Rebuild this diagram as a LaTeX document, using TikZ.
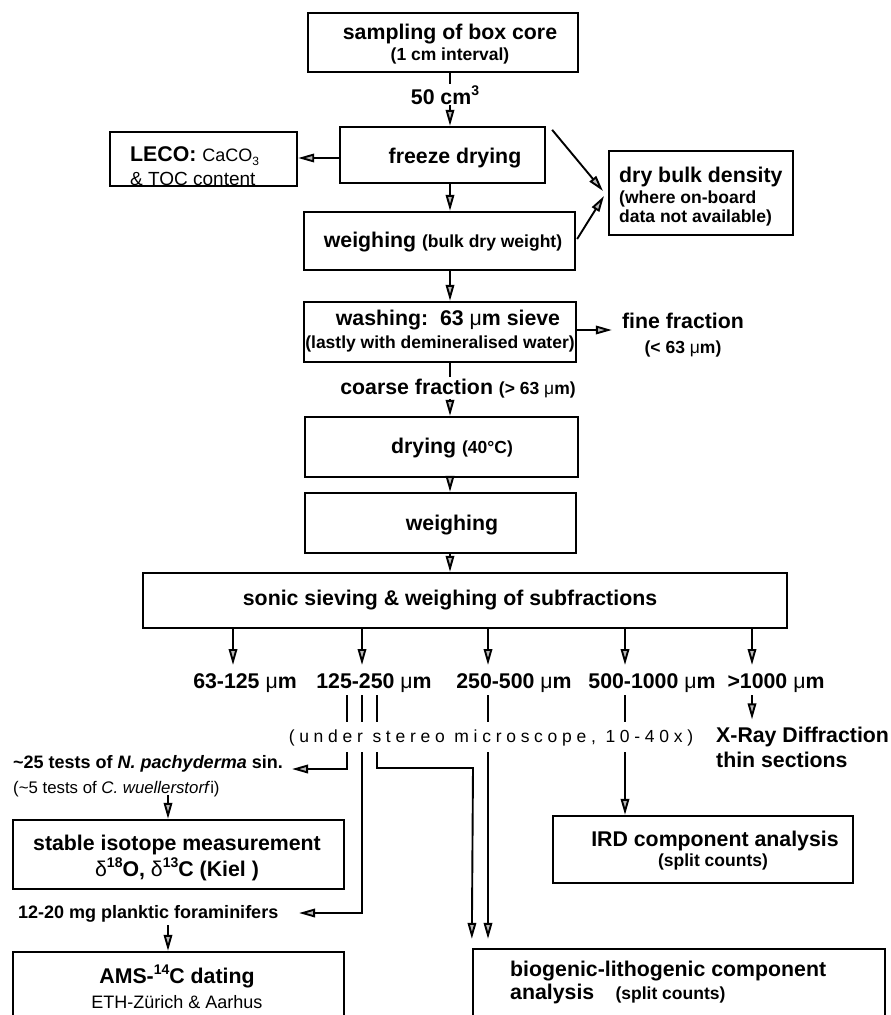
\documentclass[tikz,border=0pt]{standalone}
\usepackage{fontspec}
\setmainfont{Liberation Sans}
\newfontfamily\spacedfont[LetterSpace=27]{Liberation Sans}
\usetikzlibrary{arrows.meta}
\newcommand\fmain{\fontsize{21.3}{24}\selectfont\bfseries}
\newcommand\fsub{\fontsize{17.5}{20}\selectfont\bfseries}
\newcommand\freg{\fontsize{18}{21}\selectfont\mdseries}
\newcommand\hisup[1]{\raisebox{0.42em}{\fontsize{14}{14}\selectfont #1}}
\newcommand\losub[1]{\raisebox{-0.25em}{\fontsize{12}{12}\selectfont #1}}
\newcommand\mum{{\mdseries μ}m}
\begin{document}
\begin{tikzpicture}[x=1pt,y=-1pt,
  box/.style={draw, line width=2.3pt, inner sep=0pt},
  t/.style={inner sep=0pt, anchor=base},
  tw/.style={inner sep=0pt, anchor=base west},
  arr/.style={line width=1.9pt, -{Triangle[length=16pt,width=8.5pt,fill=gray!55]}},
  ln/.style={line width=1.9pt}]
\useasboundingbox (0,0) rectangle (891,1015);
\clip (0,0) rectangle (891,1015);
\fill[white] (0,0) rectangle (891,1015);

% column coordinates
\coordinate (col) at (450,0);
\coordinate (sx) at (168,0);
\coordinate (v1) at (347,0);
\coordinate (v2) at (362,0);
\coordinate (v3) at (377,0);
\coordinate (v4) at (488,0);
\coordinate (v5) at (625,0);
\coordinate (v6) at (752,0);

% top chain
\node[box, minimum width=270pt, minimum height=59pt] (sampling) at (443,42.5) {};
\node[t] (samp1) at (450,39) {\fmain sampling of box core};
\node[t] (samp2) at (450,60) {\fsub (1 cm interval)};

\node[box, minimum width=205pt, minimum height=56pt] (freeze) at (442.5,155) {};
\node[t] (freezet) at (455,163) {\fmain freeze drying};
\draw[arr] (sampling.south -| col) -- (freeze.north -| col);
\node[t, fill=white, inner sep=1pt] (cm) at (445,104) {\fmain 50 cm\hisup{3}};

\node[box, minimum width=187pt, minimum height=54pt] (leco) at (203.5,159) {};
\node[tw] (leco1) at (130,161) {\fmain LECO: {\freg CaCO\losub{3}}};
\node[tw] (leco2) at (130,185) {\fontsize{19}{21}\selectfont \& TOC content};
\coordinate (lecoy) at (0,158);
\draw[arr] (freeze.west |- lecoy) -- (leco.east |- lecoy);

\node[box, minimum width=184pt, minimum height=84pt] (drybulk) at (701,193) {};
\node[tw] (db1) at (619,182) {\fmain dry bulk density};
\node[tw] (db2) at (619,203) {\fsub (where on-board};
\node[tw] (db3) at (619,222) {\fsub data not available)};
\coordinate (dbtip1) at (603,191);
\coordinate (dbtip2) at (604,196);

\node[box, minimum width=271pt, minimum height=58pt] (weigh1) at (439.5,241) {};
\node[t] (w1t) at (443,247) {\fmain weighing {\fsub (bulk dry weight)}};
\draw[arr] (freeze.south -| col) -- (weigh1.north -| col);
\draw[arr] ([xshift=6pt,yshift=-4pt]freeze.north east) -- (dbtip1);
\draw[arr] ([xshift=1pt,yshift=2pt]weigh1.east) -- (dbtip2);

\node[box, minimum width=272pt, minimum height=60pt] (wash) at (440,332) {};
\node[t] (wa1) at (448,325) {\fmain washing:\ \ 63 \mum\ sieve};
\node[t] (wa2) at (440,348) {\fsub (lastly with demineralised water)};
\draw[arr] (weigh1.south -| col) -- (wash.north -| col);

\coordinate (finey) at (0,330);
\node[t] (fine1) at (683,328) {\fmain fine fraction};
\node[t] (fine2) at (683,353) {\fsub (< 63 \mum)};
\draw[arr] (wash.east |- finey) -- ([xshift=-10pt]fine1.west |- finey);

\node[box, minimum width=273pt, minimum height=60pt] (dry) at (441.5,447) {};
\node[t] (dryt) at (452,453) {\fmain drying {\fsub (40°C)}};
\draw[arr] (wash.south -| col) -- (dry.north -| col);
\node[t, fill=white, inner sep=1.5pt] (coarse) at (458,394) {\fmain coarse fraction {\fsub (> 63 \mum)}};

\node[box, minimum width=271pt, minimum height=60pt] (weigh2) at (440.5,523) {};
\node[t] (w2t) at (452,530) {\fmain weighing};
\draw[arr] (dry.south -| col) -- (weigh2.north -| col);

\node[box, minimum width=644pt, minimum height=55pt] (sonic) at (465,600.5) {};
\node[t] (sonict) at (450,605) {\fmain sonic sieving \& weighing of subfractions};
\draw[arr] (weigh2.south -| col) -- (sonic.north -| col);

% size ranges
\node[t] (r1) at (245,688) {\fmain 63-125 \mum};
\node[t] (r2) at (374,688) {\fmain 125-250 \mum};
\node[t] (r3) at (514,688) {\fmain 250-500 \mum};
\node[t] (r4) at (652,688) {\fmain 500-1000 \mum};
\node[t] (r5) at (776,688) {\fmain >1000 \mum};
\coordinate (a1) at (233,665);
\coordinate (a2) at (362,665);
\coordinate (a3) at (488,665);
\coordinate (a4) at (625,665);
\coordinate (a5) at (752,665);
\draw[arr] (sonic.south -| a1) -- (a1);
\draw[arr] (sonic.south -| a2) -- (a2);
\draw[arr] (sonic.south -| a3) -- (a3);
\draw[arr] (sonic.south -| a4) -- (a4);
\draw[arr] (sonic.south -| a5) -- (a5);

\node[t] (micro) at (491,742) {\spacedfont\fontsize{17.5}{20}\selectfont (under stereo microscope, 10-40x)};

\foreach \v/\r in {v1/r2, v2/r2, v3/r2, v4/r3, v5/r4}
  \draw[ln] ([yshift=-7pt]\r.base -| \v) -- ([yshift=20pt]micro.base -| \v);

\node[tw] (xray1) at (716,742) {\fmain X-Ray Diffraction};
\node[tw] (xray2) at (716,767) {\fmain thin sections};
\draw[arr] ([yshift=-7pt]r5.base -| v6) -- ([yshift=7pt]xray1.north -| v6);

% left branch
\node[tw] (tests1) at (13,768) {\fontsize{18}{21}\selectfont\bfseries \textasciitilde 25 tests of \textit{N. pachyderma} sin.};
\node[tw] (tests2) at (13,793) {\fontsize{16.8}{19}\selectfont (\textasciitilde 5 tests of \textit{C. wuellerstorf}i)};
\node[box, minimum width=331pt, minimum height=69pt] (stable) at (178.5,854.5) {};
\node[t] (st1) at (177,850) {\fmain stable isotope measurement};
\node[t] (st2) at (177,876) {\fmain {\mdseries δ}\hisup{18}O, {\mdseries δ}\hisup{13}C (Kiel )};
\node[tw] (mg) at (18,918) {\fontsize{18}{21}\selectfont\bfseries 12-20 mg planktic foraminifers};
\node[box, minimum width=331pt, minimum height=88pt] (ams) at (178.5,996) {};
\node[t] (ams1) at (177,983) {\fmain AMS-\hisup{14}C dating};
\node[t] (ams2) at (177,1008) {\freg ETH-Zürich \& Aarhus};
\coordinate (t1tip) at (292,769);
\coordinate (t2tip) at (299,913);
\draw[arr] ([yshift=-10pt]micro.base -| v1) |- (t1tip);
\draw[arr] ([yshift=-10pt]micro.base -| v2) |- (t2tip);
\draw[arr] ([yshift=-2pt]tests2.base -| sx) -- (stable.north -| sx);
\draw[arr] ([yshift=-7pt]mg.base -| sx) -- (ams.north -| sx);

% right branch
\node[box, minimum width=300pt, minimum height=67pt] (ird) at (703,849.5) {};
\node[t] (ird1) at (715,846) {\fmain IRD component analysis};
\node[t] (ird2) at (713,866) {\fsub (split counts)};
\draw[arr] ([yshift=-10pt]micro.base -| v5) -- (ird.north -| v5);

\node[box, minimum width=412pt, minimum height=91pt] (bio) at (679,994.5) {};
\node[tw] (bio1) at (510,976) {\fmain biogenic-lithogenic component};
\node[tw] (bio2) at (510,999) {\fmain analysis\quad{\fsub (split counts)}};
\coordinate (bend3) at (473,768);
\draw[arr] ([yshift=-10pt]micro.base -| v3) |- (bend3) -- ([yshift=9pt]bio.north west);
\draw[arr] ([yshift=-10pt]micro.base -| v4) -- ([yshift=9pt]bio.north -| v4);
\end{tikzpicture}
\end{document}
